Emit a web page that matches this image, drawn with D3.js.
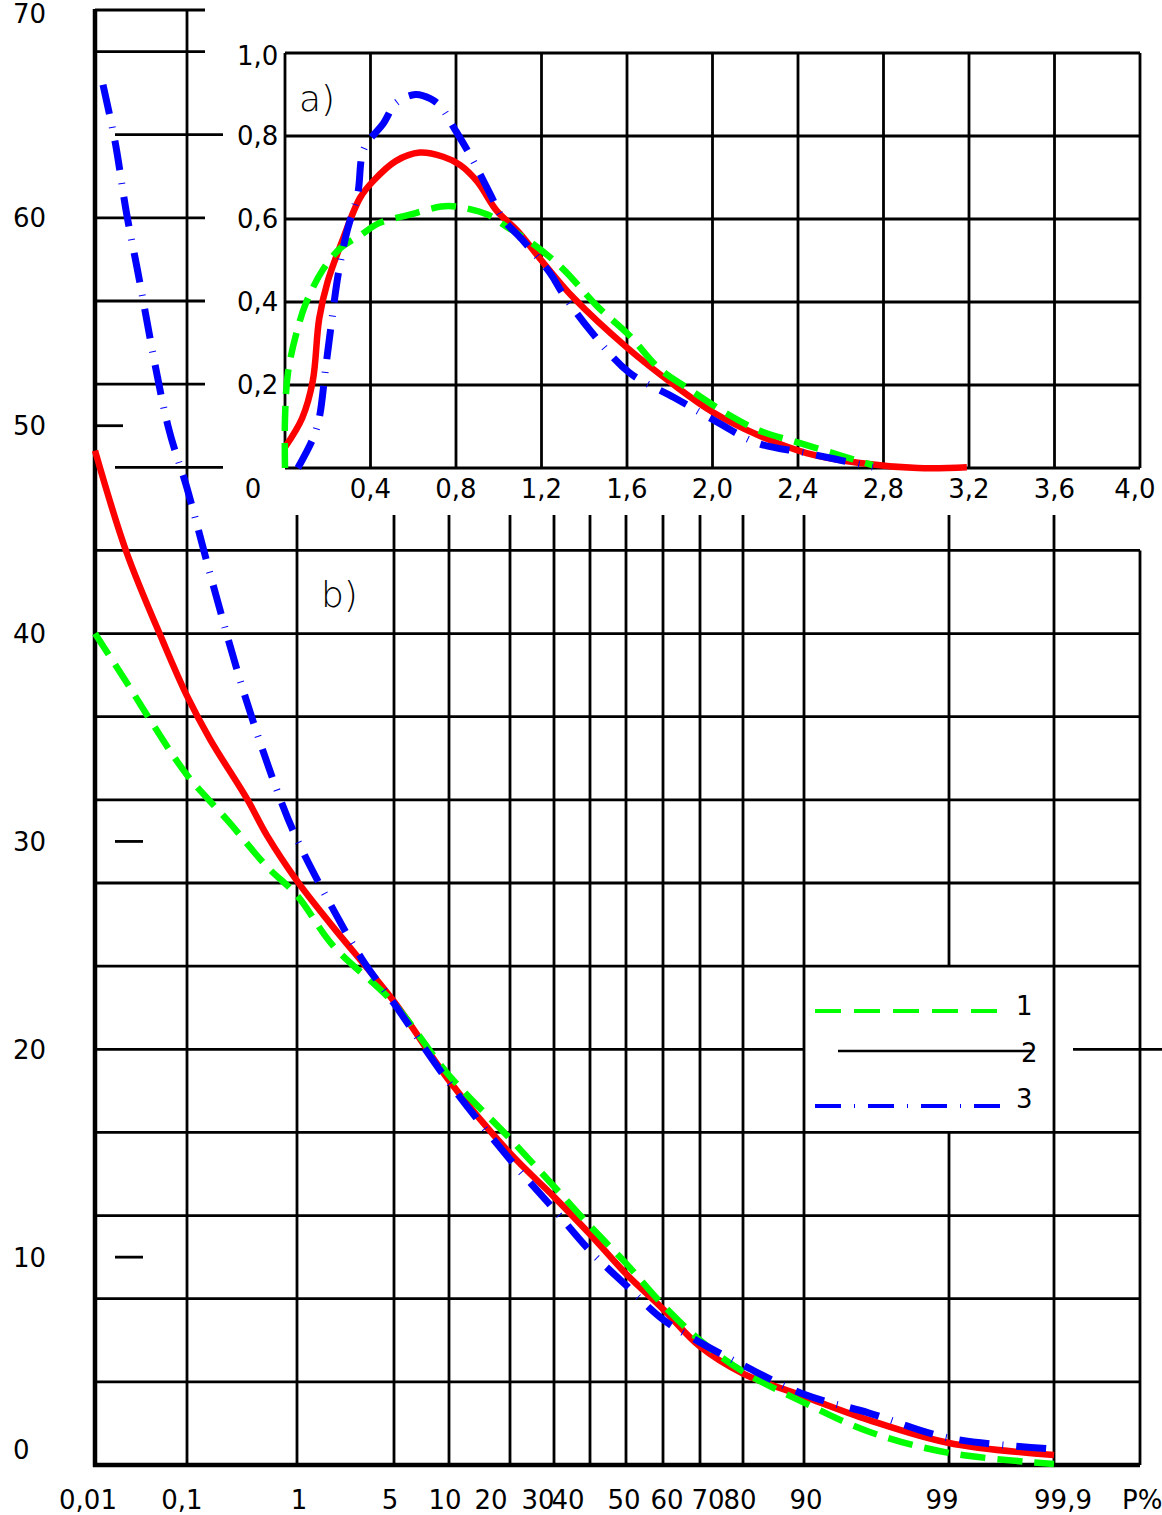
<!DOCTYPE html>
<html>
<head>
<meta charset="utf-8">
<script src="https://cdn.jsdelivr.net/npm/d3@7"></script>
<style>
  body { margin: 0; background: #fff; }
  text { font-family: "DejaVu Sans", sans-serif; fill: #000; }
</style>
</head>
<body>
<div id="chart"></div>
<script>
// ---- data ----
// b) main chart: probability P% vs value
var pTicks = [0.01, 0.1, 1, 5, 10, 20, 30, 40, 50, 60, 70, 80, 90, 99, 99.9];
var pTickLabels = ["0,01", "0,1", "1", "5", "10", "20", "30", "40", "50", "60", "70", "80", "90", "99", "99,9"];
var yTicks = [0, 10, 20, 30, 40, 50, 60, 70];

var greenP = [0.01, 0.025, 0.045, 0.1, 0.25, 0.56, 1, 1.9, 5, 10, 20, 30, 40, 50, 60, 70, 80, 90, 96, 99, 99.9];
var greenY = [40.0, 37.4, 35.6, 33.2, 31.0, 28.8, 27.4, 25.0, 22.2, 18.75, 15.7, 13.4, 11.5, 9.7, 7.7, 6.0, 4.5, 3.0, 1.6, 0.58, 0.05];

var redP = [0.01, 0.023, 0.057, 0.1, 0.17, 0.38, 0.56, 1, 1.9, 5, 10, 20, 30, 40, 50, 60, 70, 80, 90, 96, 99, 99.9];
var redY = [48.8, 43.9, 39.6, 37.0, 34.9, 32.0, 30.3, 28.1, 25.9, 22.3, 18.5, 15.0, 12.9, 11.1, 9.2, 7.5, 5.7, 4.4, 3.3, 2.16, 1.06, 0.48];

var blueP = [0.0124, 0.017, 0.023, 0.030, 0.064, 0.1, 0.18, 0.35, 0.68, 1, 2.0, 3.1, 5, 10, 20, 30, 40, 50, 60, 70, 80, 90, 96, 99, 99.9];
var blueY = [66.4, 63.7, 60.2, 57.6, 50.0, 47.0, 42.4, 37.2, 32.5, 30.1, 26.5, 24.3, 22.2, 18.4, 14.7, 12.3, 10.3, 8.65, 7.0, 5.9, 4.8, 3.4, 2.5, 1.3, 0.77];

// a) inset: density curves
var inXTicks = [0, 0.4, 0.8, 1.2, 1.6, 2.0, 2.4, 2.8, 3.2, 3.6, 4.0];
var inYTicks = [0, 0.2, 0.4, 0.6, 0.8, 1.0];

var inGreenX = [0, 0, 0.014, 0.056, 0.10, 0.18, 0.26, 0.35, 0.44, 0.58, 0.73, 0.80, 0.95, 1.04, 1.16, 1.30, 1.46, 1.61, 1.75, 1.89, 2.07, 2.22, 2.41, 2.60, 2.75];
var inGreenY = [0, 0.12, 0.23, 0.33, 0.40, 0.48, 0.53, 0.56, 0.59, 0.61, 0.63, 0.63, 0.61, 0.58, 0.54, 0.48, 0.39, 0.32, 0.24, 0.19, 0.13, 0.09, 0.06, 0.03, 0.007];

var inRedX = [0, 0.08, 0.13, 0.16, 0.20, 0.27, 0.35, 0.41, 0.52, 0.63, 0.74, 0.82, 0.90, 0.99, 1.09, 1.20, 1.35, 1.60, 1.82, 2.00, 2.21, 2.44, 2.69, 2.96, 3.19];
var inRedY = [0.05, 0.12, 0.21, 0.36, 0.45, 0.55, 0.65, 0.69, 0.74, 0.76, 0.75, 0.73, 0.69, 0.62, 0.57, 0.50, 0.41, 0.29, 0.20, 0.135, 0.08, 0.036, 0.012, 0, 0.002];

var inBlueX = [0.06, 0.13, 0.16, 0.19, 0.22, 0.25, 0.29, 0.34, 0.37, 0.46, 0.52, 0.61, 0.68, 0.73, 0.79, 0.87, 0.96, 1.02, 1.11, 1.24, 1.30, 1.43, 1.61, 1.82, 1.99, 2.21, 2.44, 2.75];
var inBlueY = [0, 0.07, 0.12, 0.24, 0.36, 0.47, 0.57, 0.66, 0.77, 0.83, 0.88, 0.90, 0.89, 0.87, 0.82, 0.75, 0.66, 0.60, 0.55, 0.47, 0.42, 0.33, 0.23, 0.17, 0.12, 0.06, 0.036, 0.002];

var legendLabels = ["1", "2", "3"];

// ---- layout ----
var W = 1162, H = 1515;
var gridW = 2.8;

// probability paper: inverse normal (Acklam)
function probit(p) {
  var a = [-3.969683028665376e+01, 2.209460984245205e+02, -2.759285104469687e+02, 1.383577518672690e+02, -3.066479806614716e+01, 2.506628277459239e+00];
  var b = [-5.447609879822406e+01, 1.615858368580409e+02, -1.556989798598866e+02, 6.680131188771972e+01, -1.328068155288572e+01];
  var c = [-7.784894002430293e-03, -3.223964580411365e-01, -2.400758277161838e+00, -2.549732539343734e+00, 4.374664141464968e+00, 2.938163982698783e+00];
  var d = [7.784695709041462e-03, 3.224671290700398e-01, 2.445134137142996e+00, 3.754408661907416e+00];
  var pl = 0.02425, q, r;
  if (p < pl) {
    q = Math.sqrt(-2 * Math.log(p));
    return (((((c[0]*q+c[1])*q+c[2])*q+c[3])*q+c[4])*q+c[5]) / ((((d[0]*q+d[1])*q+d[2])*q+d[3])*q+1);
  }
  if (p <= 1 - pl) {
    q = p - 0.5; r = q * q;
    return (((((a[0]*r+a[1])*r+a[2])*r+a[3])*r+a[4])*r+a[5])*q / (((((b[0]*r+b[1])*r+b[2])*r+b[3])*r+b[4])*r+1);
  }
  q = Math.sqrt(-2 * Math.log(1 - p));
  return -(((((c[0]*q+c[1])*q+c[2])*q+c[3])*q+c[4])*q+c[5]) / ((((d[0]*q+d[1])*q+d[2])*q+d[3])*q+1);
}

// the drawn paper is not perfectly regular, so the scale is piecewise in z
var pTickRange = [95, 187, 297, 394, 449, 510, 554, 590, 626, 663, 700, 743, 804, 949, 1054];
var zScale = d3.scaleLinear()
  .domain(pTicks.map(function(p){ return probit(p / 100); }))
  .range(pTickRange);
var x = function(p){ return zScale(probit(p / 100)); };
var y = d3.scaleLinear().domain([0, 70]).range([1465, 10]);

var xIn = d3.scaleLinear().domain([0, 4]).range([285, 1140]);
var yIn = d3.scaleLinear().domain([0, 1]).range([468, 53]);

var svg = d3.select("#chart").append("svg")
  .attr("width", W)
  .attr("height", H)
  .style("background", "#fff");

function hline(g, yy, x1, x2, w) {
  g.append("line").attr("x1", x1).attr("x2", x2).attr("y1", yy).attr("y2", yy)
    .attr("stroke", "#000").attr("stroke-width", w || gridW);
}
function vline(g, xx, y1, y2, w) {
  g.append("line").attr("x1", xx).attr("x2", xx).attr("y1", y1).attr("y2", y2)
    .attr("stroke", "#000").attr("stroke-width", w || gridW);
}

var grid = svg.append("g");

// main chart horizontal grid (every 4 units)
d3.range(4, 48, 4).forEach(function(v){
  if (v === 20) {
    hline(grid, y(v), x(0.01), x(90));
    hline(grid, y(v), 1073, 1162);
  } else {
    hline(grid, y(v), x(0.01), 1140);
  }
});
// left-hand stubs above the main grid
[52, 56, 60, 68, 70].forEach(function(v){ hline(grid, y(v), x(0.01), 205); });
[48, 64].forEach(function(v){ hline(grid, y(v), 115, 223); });
hline(grid, y(50), 97, 123);
[30, 10].forEach(function(v){ hline(grid, y(v), 115, 143); });

// main chart verticals
vline(grid, x(0.1), y(70), y(0));
pTicks.slice(2).forEach(function(p){
  if (p === 99) {
    vline(grid, x(p), 515, y(24));
    vline(grid, x(p), y(16), y(0));
  } else {
    vline(grid, x(p), 515, y(0));
  }
});
vline(grid, 1140, y(44), y(0));

// axes of main chart
vline(grid, x(0.01), y(70) - 1, y(0) + 2, 4.5);
hline(grid, y(0), x(0.01) - 2, 1140, 4.5);

// inset grid
inXTicks.forEach(function(v){ vline(grid, xIn(v), yIn(1), yIn(0)); });
inYTicks.forEach(function(v){ hline(grid, yIn(v), xIn(0), xIn(4)); });

// ---- labels ----
var labels = svg.append("g").style("font-size", "26px");

yTicks.forEach(function(v){
  labels.append("text")
    .attr("x", 13)
    .attr("y", y(v) + (v === 0 ? -15 : 0) + (v === 70 ? 4 : 0))
    .attr("dy", "0.36em")
    .text(v);
});

var pLabelDx = [-7, -5, 2, -4, -4, -19, -16, -22, -2, 4, 8, -3, 2, -7, 9];
pTicks.forEach(function(p, i){
  labels.append("text")
    .attr("x", x(p) + pLabelDx[i])
    .attr("y", 1500)
    .attr("dy", "0.36em")
    .attr("text-anchor", "middle")
    .text(pTickLabels[i]);
});
labels.append("text").attr("x", 1122).attr("y", 1500).attr("dy", "0.36em").text("P%");

inYTicks.slice(1).forEach(function(v){
  labels.append("text")
    .attr("x", 237)
    .attr("y", yIn(v) + (v === 1 ? 3 : 0))
    .attr("dy", "0.36em")
    .text(d3.format(".1f")(v).replace(".", ","));
});
inXTicks.forEach(function(v){
  labels.append("text")
    .attr("x", v === 0 ? xIn(v) - 32 : xIn(v) - (v === 4 ? 5 : 0))
    .attr("y", 489)
    .attr("dy", "0.36em")
    .attr("text-anchor", "middle")
    .text(v === 0 ? "0" : d3.format(".1f")(v).replace(".", ","));
});

svg.append("text").attr("x", 299).attr("y", 98).attr("dy", "0.36em")
  .style("font-size", "36px").style("font-weight", 200).text("a)");
svg.append("text").attr("x", 321).attr("y", 594).attr("dy", "0.36em")
  .style("font-size", "36px").style("font-weight", 200).text("b)");

// ---- curves ----
var styles = {
  red:   { color: "#ff0000", width: 6.5, dash: null },
  green: { color: "#00ff00", width: 6.5, dash: "25,12" },
  blue:  { color: "#0000ff", width: 7, dash: "30,13,1,13" }
};

function drawCurve(xs, ys, sx, sy, st) {
  var pts = xs.map(function(v, i){ return [sx(v), sy(ys[i])]; });
  svg.append("path")
    .attr("d", d3.line().curve(d3.curveCatmullRom.alpha(0.5))(pts))
    .attr("fill", "none")
    .attr("stroke", st.color)
    .attr("stroke-width", st.width)
    .attr("stroke-dasharray", st.dash)
    .attr("stroke-linecap", "butt")
    .attr("stroke-linejoin", "round");
}

drawCurve(redP, redY, x, y, styles.red);
drawCurve(greenP, greenY, x, y, styles.green);
drawCurve(blueP, blueY, x, y, styles.blue);

drawCurve(inRedX, inRedY, xIn, yIn, styles.red);
drawCurve(inGreenX, inGreenY, xIn, yIn, styles.green);
drawCurve(inBlueX, inBlueY, xIn, yIn, styles.blue);

// ---- legend ----
var leg = svg.append("g");
leg.append("line").attr("x1", 815).attr("x2", 1005).attr("y1", 1011).attr("y2", 1011)
  .attr("stroke", "#00ff00").attr("stroke-width", 4).attr("stroke-dasharray", "26,13");
leg.append("line").attr("x1", 838).attr("x2", 1032).attr("y1", 1051).attr("y2", 1051)
  .attr("stroke", "#000").attr("stroke-width", 2.5);
leg.append("line").attr("x1", 815).attr("x2", 1005).attr("y1", 1106).attr("y2", 1106)
  .attr("stroke", "#0000ff").attr("stroke-width", 4).attr("stroke-dasharray", "26,13,1,13");
[[1016, 1006], [1021, 1053], [1016, 1099]].forEach(function(pos, i){
  leg.append("text").attr("x", pos[0]).attr("y", pos[1]).attr("dy", "0.36em")
    .style("font-size", "26px").text(legendLabels[i]);
});
</script>
</body>
</html>
